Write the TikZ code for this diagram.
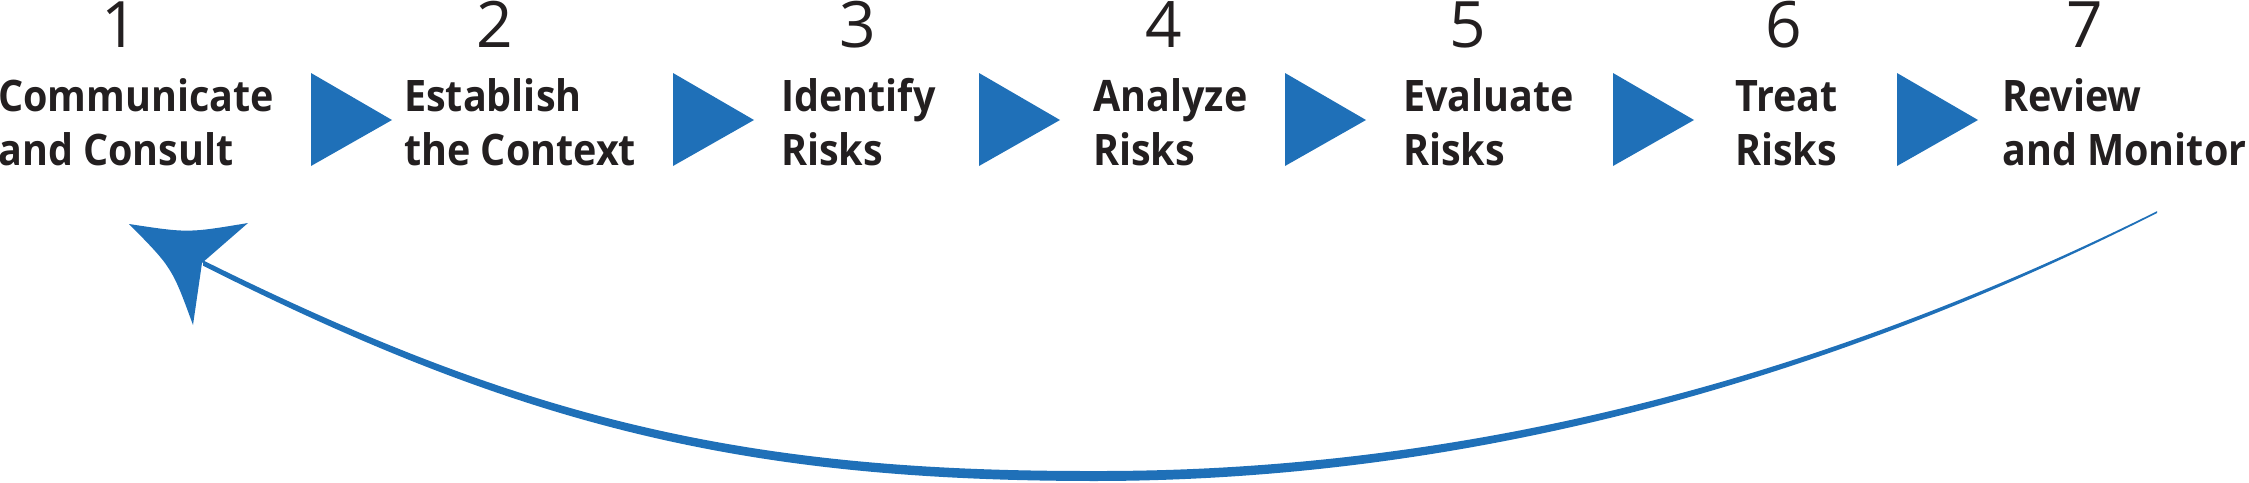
\documentclass[tikz,border=0pt]{standalone}
\usepackage{fontspec}
\setmainfont{Open Sans}
\newfontfamily\labelfont{Open Sans}[FakeStretch=0.91]
\definecolor{stepblue}{RGB}{31,112,184}
\definecolor{inkgray}{RGB}{35,31,32}
\newcommand{\steplines}[2]{\begin{tabular}[t]{@{}l@{}}#1\\#2\end{tabular}}
\tikzset{
  steplabel/.style={anchor=base west, inner sep=0pt, text=inkgray,
    font=\fontsize{43.4}{54}\selectfont\labelfont\bfseries},
  stepnum/.style={anchor=base, inner sep=0pt, text=inkgray,
    font=\fontsize{64}{64}\selectfont},
  chevron/.style={fill=stepblue, draw=none},
  returnarrow/.style={fill=stepblue, draw=none},
}
\begin{document}
\begin{tikzpicture}[x=1pt,y=-1pt]
\useasboundingbox (0,0) rectangle (2249,482);

% step numbers
\node[stepnum] (n1) at (120,47) {1};
\node[stepnum] (n2) at (495,47) {2};
\node[stepnum] (n3) at (858,47) {3};
\node[stepnum] (n4) at (1164,47) {4};
\node[stepnum] (n5) at (1468,47) {5};
\node[stepnum] (n6) at (1784,47) {6};
\node[stepnum] (n7) at (2085,47) {7};

% step labels
\node[steplabel] (s1) at (-2,111) {\steplines{Communicate}{and Consult}};
\node[steplabel] (s2) at (404,111) {\steplines{Establish}{the Context}};
\node[steplabel] (s3) at (781,111) {\steplines{Identify}{Risks}};
\node[steplabel] (s4) at (1093,111) {\steplines{Analyze}{Risks}};
\node[steplabel] (s5) at (1403,111) {\steplines{Evaluate}{Risks}};
\node[steplabel] (s6) at (1735,111) {\steplines{Treat}{Risks}};
\node[steplabel] (s7) at (2002,111) {\steplines{Review}{and Monitor}};

% chevrons between steps
\foreach \xa in {311,673,979,1285,1613,1897}{
  \fill[chevron] (\xa,73) -- (\xa+81,120) -- (\xa,166) -- cycle;
}

% return arrow from step 7 back to step 1
\coordinate (retstart) at (2157,212);
\coordinate (retnotch) at (202,263);
\coordinate (retbottom) at (1093,476);
\fill[returnarrow] (203,260.3) .. controls (523,419) and (743,471.5) .. (1093,471)
  .. controls (1450,472) and (1805,386) .. (2157,211.2)
  -- (2157,213) .. controls (1805,391) and (1450,481) .. (1093,481)
  .. controls (743,480.5) and (523,427) .. (203,265.7) -- cycle;
\fill[returnarrow] (retnotch) -- (248,223) .. controls (188,233) .. (129,224)
  .. controls (172,267.5) .. (193,325) -- cycle;
\end{tikzpicture}
\end{document}
